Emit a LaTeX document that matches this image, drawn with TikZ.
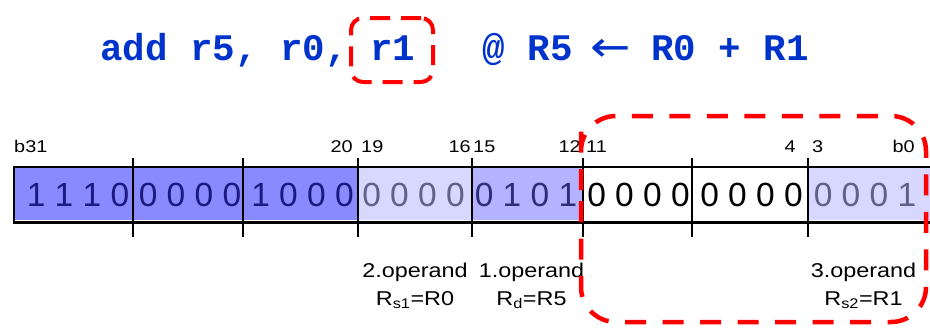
\documentclass[tikz,border=0pt]{standalone}
\usepackage{fontspec}
\setmainfont{Liberation Sans}
\newfontfamily\titlefont{Liberation Mono}
\newfontfamily\arrowfont{DejaVu Sans}
\newfontfamily\lblfont{Liberation Sans}[FakeStretch=1.17]
\definecolor{titleblue}{HTML}{0033CC}
\definecolor{darkfill}{HTML}{8A8AFF}
\definecolor{midfill}{HTML}{B3B3FF}
\definecolor{lightfill}{HTML}{D7D7FF}
\definecolor{darkdigit}{HTML}{1A1A80}
\definecolor{middigit}{HTML}{2E2E78}
\definecolor{lightdigit}{HTML}{60608A}
\definecolor{boxred}{HTML}{FF0000}
\frenchspacing
\begin{document}
\begin{tikzpicture}[x=1pt,y=-1pt,
  titlestyle/.style={font=\titlefont\bfseries\fontsize{37.5}{40}\selectfont, text=titleblue, inner sep=0pt},
  bits/.style={font=\fontsize{33.5}{40}\selectfont, inner sep=0pt, anchor=base},
  bitlbl/.style={font=\lblfont\fontsize{17}{20}\selectfont, inner sep=0pt},
  oplbl/.style={font=\lblfont\fontsize{20}{28}\selectfont, align=center, inner sep=0pt, anchor=base},
  divider/.style={line width=1.3pt, black},
  redbox/.style={draw=boxred, line width=4.5pt, dash pattern=on 21pt off 16.5pt}]
\useasboundingbox (0,0) rectangle (930,327);
\clip (0,0) rectangle (930,327);
% title
\node[titlestyle, anchor=base west] (t1) at (100,60) {add r5, r0, r1\ \ \ @ R5};
\node[font=\arrowfont\fontsize{42}{46}\selectfont, text=titleblue, inner sep=0pt, anchor=base] (tarr) at (610.5,61.5) {\scalebox{1.15}[1]{←}};
\node[titlestyle, anchor=base west] (t2) at (651,60) {R0 + R1};
\node[draw=boxred, line width=4pt, dash pattern=on 20pt off 11pt, rounded corners=12pt,
      minimum width=82pt, minimum height=64pt, inner sep=0pt] (r1box) at (392,50) {};
% register fields
\fill[darkfill] (14,167) rectangle (358,220);
\fill[lightfill] (358,167) rectangle (472,220);
\fill[midfill] (472,167) rectangle (583,220);
\fill[lightfill] (808,167) rectangle (935,220);
\draw[line width=1.5pt] (14,167) -- (935,167);
\draw[line width=3pt] (13,222.5) -- (935,222.5);
\draw[line width=2pt] (14,166.25) -- (14,224);
\foreach \x in {133,243,358,472,583,692,808} \draw[divider] (\x,158) -- (\x,236.5);
% digits
\node[bits, text=darkdigit] (f1) at (78,206.5) {1 1 1 0};
\node[bits, text=darkdigit] (f2) at (190,206.5) {0 0 0 0};
\node[bits, text=darkdigit] (f3) at (302.5,206.5) {1 0 0 0};
\node[bits, text=lightdigit] (f4) at (413.5,206.5) {0 0 0 0};
\node[bits, text=middigit] (f5) at (526,206.5) {0 1 0 1};
\node[bits, text=black] (f6) at (638.5,206.5) {0 0 0 0};
\node[bits, text=black] (f7) at (751.5,206.5) {0 0 0 0};
\node[bits, text=lightdigit] (f8) at (865,206.5) {0 0 0 1};
% bit labels
\node[bitlbl, anchor=base west] (l31) at (14,152.5) {b31};
\node[bitlbl, anchor=base east] (l20) at (353,152.5) {20};
\node[bitlbl, anchor=base west] (l19) at (361,152.5) {19};
\node[bitlbl, anchor=base east] (l16) at (471,152.5) {16};
\node[bitlbl, anchor=base west] (l15) at (473,152.5) {15};
\node[bitlbl, anchor=base east] (l12) at (581,152.5) {12};
\node[bitlbl, anchor=base west] (l11) at (586,152.5) {11};
\node[bitlbl, anchor=base east] (l4) at (796,152.5) {4};
\node[bitlbl, anchor=base west] (l3) at (812,152.5) {3};
\node[bitlbl, anchor=base east] (l0) at (915,152.5) {b0};
% operand labels (base = last line baseline)
\node[oplbl] (op2) at (415,305) {2.operand\\R\textsubscript{s1}=R0};
\node[oplbl] (op1) at (531.5,305) {1.operand\\R\textsubscript{d}=R5};
\node[oplbl] (op3) at (863.5,305) {3.operand\\R\textsubscript{s2}=R1};
% big red dashed box
\draw[redbox, rounded corners=35pt] (581,166) -- (581,322) -- (926,322) -- (926,116) -- (581,116) -- cycle;
\end{tikzpicture}
\end{document}
